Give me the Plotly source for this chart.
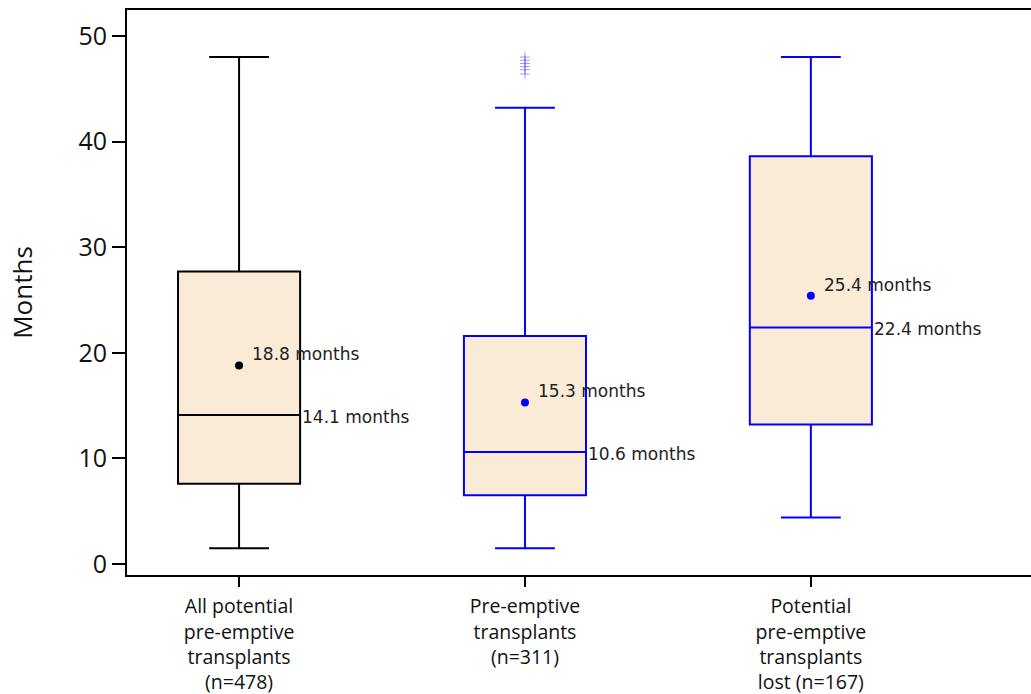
import plotly.graph_objects as go

categories = ["All potential<br>pre-emptive<br>transplants<br>(n=478)",
              "Pre-emptive<br>transplants<br>(n=311)",
              "Potential<br>pre-emptive<br>transplants<br>lost (n=167)"]
xpos = [1, 2, 3]
q1 = [7.6, 6.5, 13.2]
median = [14.1, 10.6, 22.4]
q3 = [27.7, 21.6, 38.6]
lower = [1.5, 1.5, 4.4]
upper = [48.0, 43.2, 48.0]
mean = [18.8, 15.3, 25.4]
outliers_x = [2, 2, 2, 2, 2, 2]
outliers_y = [46.4, 46.8, 47.1, 47.4, 47.7, 48.0]
line_colors = ["black", "#0000FF", "#0000FF"]
fill = "#FAEBD7"

fig = go.Figure()
for i in range(3):
    fig.add_trace(go.Box(
        x=[xpos[i]], q1=[q1[i]], median=[median[i]], q3=[q3[i]],
        lowerfence=[lower[i]], upperfence=[upper[i]],
        width=0.427, whiskerwidth=0.49,
        fillcolor=fill, line=dict(color=line_colors[i], width=2),
        showlegend=False, boxpoints=False,
    ))
    fig.add_trace(go.Scatter(
        x=[xpos[i]], y=[mean[i]], mode="markers",
        marker=dict(color=line_colors[i], size=8), showlegend=False))
    fig.add_annotation(x=xpos[i], y=mean[i], text=f"{mean[i]} months",
                       showarrow=False, xanchor="left", xshift=11, yshift=11,
                       font=dict(family="DejaVu Sans", size=17, color="#222"))
    fig.add_annotation(x=xpos[i] + 0.2135, y=median[i], text=f"{median[i]} months",
                       showarrow=False, xanchor="left", xshift=0, yshift=-2,
                       font=dict(family="DejaVu Sans", size=17, color="#222"))

fig.add_trace(go.Scatter(
    x=outliers_x, y=outliers_y, mode="markers",
    marker=dict(symbol="cross-thin", size=7, line=dict(color="rgba(90,90,255,0.6)", width=1)),
    showlegend=False))

fig.update_layout(
    width=1031, height=694,
    margin=dict(l=127, r=0, t=10, b=119),
    plot_bgcolor="white", paper_bgcolor="white",
    xaxis=dict(range=[0.608, 3.77], tickvals=xpos, ticktext=categories,
               showline=True, linecolor="black", linewidth=2, mirror=True,
               ticks="outside", ticklen=10, tickwidth=2, tickcolor="black",
               showgrid=False, zeroline=False, ticklabelstandoff=3,
               tickfont=dict(family="Open Sans", size=19.5, color="#111")),
    yaxis=dict(range=[-1.04, 52.46], tickvals=[0, 10, 20, 30, 40, 50],
               showline=True, linecolor="black", linewidth=2, mirror=False,
               ticks="outside", ticklen=13, tickwidth=2, tickcolor="black",
               showgrid=False, zeroline=False,
               title=dict(text="Months", font=dict(family="Open Sans", size=26, color="#111"), standoff=38),
               tickfont=dict(family="Open Sans", size=25, color="#111")),
)
fig.write_html("out.html", config={"displayModeBar": False},
               post_script="document.body.style.margin='0';")
